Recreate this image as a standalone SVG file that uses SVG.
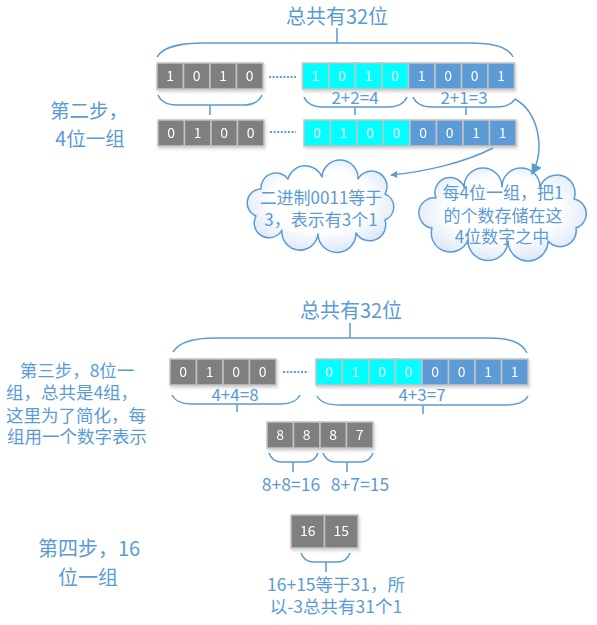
<svg xmlns="http://www.w3.org/2000/svg" width="597" height="625" viewBox="0 0 597 625">
<defs>
<style>
.lbl{font-family:"Noto Sans CJK SC","Noto Sans",sans-serif;fill:#5b9bd5;text-anchor:middle}
.t20{font-size:20px}
.t19{font-size:19.5px}
.t17{font-size:17.5px}
.t16{font-size:17px}
.cell rect{stroke:#c3c3c3;stroke-width:1.5}
.g{fill:#7f7f7f}
.c{fill:#00ffff}
.b{fill:#5b9bd5}
.cell text{font-family:"Noto Sans CJK SC","Noto Sans",sans-serif;font-size:14px;fill:#ffffff;text-anchor:middle}
.br{fill:none;stroke:#5b9bd5;stroke-width:1.5}
.dots{fill:none;stroke:#5b9bd5;stroke-width:2;stroke-dasharray:2 1.6}
.cloud{fill:url(#cg);stroke:#5b9bd5;stroke-width:1.5;stroke-linejoin:round}
.arr{fill:none;stroke:#5b9bd5;stroke-width:1.5}
</style>
<filter id="sh" x="-10%" y="-20%" width="120%" height="160%">
<feDropShadow dx="1" dy="2" stdDeviation="1.5" flood-color="#000" flood-opacity="0.18"/>
</filter>
<radialGradient id="cg" cx="50%" cy="45%" r="60%">
<stop offset="0.55" stop-color="#ffffff"/>
<stop offset="1" stop-color="#d6e4f4"/>
</radialGradient>
<marker id="ah" viewBox="0 0 10 10" refX="9" refY="5" markerWidth="11" markerHeight="11" markerUnits="userSpaceOnUse" orient="auto">
<path d="M0,0 L10,5 L0,10 z" fill="#5b9bd5"/>
</marker>
<marker id="ahs" viewBox="0 0 10 10" refX="9" refY="5" markerWidth="7" markerHeight="7" markerUnits="userSpaceOnUse" orient="auto">
<path d="M0,0 L10,5 L0,10 z" fill="#5b9bd5"/>
</marker>
</defs>
<rect width="597" height="625" fill="#ffffff"/>

<!-- Step 2 -->
<g id="title1">
<text class="lbl t20" x="337" y="24">总共有32位</text>
<path class="br" d="M157,57 C163,47 178,43 205,43 H468 C494,43 508,47 513,57 M337,28 V43"/>
</g>
<g id="step2-label">
<text class="lbl t19" x="89" y="118">第二步，</text>
<text class="lbl t19" x="90" y="146">4位一组</text>
</g>
<g id="row1" class="cell" filter="url(#sh)">
<rect class="g" x="157" y="63" width="26.5" height="26"/><rect class="g" x="183.5" y="63" width="26.5" height="26"/><rect class="g" x="210" y="63" width="26.5" height="26"/><rect class="g" x="236.5" y="63" width="26.5" height="26"/>
<rect class="c" x="302.5" y="63" width="26.5" height="26"/><rect class="c" x="329" y="63" width="26.5" height="26"/><rect class="c" x="355.5" y="63" width="26.5" height="26"/><rect class="c" x="382" y="63" width="26.5" height="26"/>
<rect class="b" x="408.5" y="63" width="26.5" height="26"/><rect class="b" x="435" y="63" width="26.5" height="26"/><rect class="b" x="461.5" y="63" width="26.5" height="26"/><rect class="b" x="488" y="63" width="26.5" height="26"/>
<text x="170.25" y="81">1</text><text x="196.75" y="81">0</text><text x="223.25" y="81">1</text><text x="249.75" y="81">0</text>
<text x="315.75" y="81">1</text><text x="342.25" y="81">0</text><text x="368.75" y="81">1</text><text x="395.25" y="81">0</text>
<text x="421.75" y="81">1</text><text x="448.25" y="81">0</text><text x="474.75" y="81">0</text><text x="501.25" y="81">1</text>
</g>
<path class="dots" d="M269,77 H296"/>
<g id="brace1a"><path class="br" d="M158,95 C161,102 167,105 177,105 H243 C253,105 259,102 262,95 M210,105 V115"/></g>
<g id="brace1b">
<path class="br" d="M304,97 C307,104 313,107 323,107 H388 C398,107 404,104 407,97 M355,107 V115"/>
<text class="lbl t16" x="355" y="104">2+2=4</text>
</g>
<g id="brace1c">
<path class="br" d="M413,97 C416,104 422,107 432,107 H496 C506,107 512,104 515,99 M466,107 V115"/>
<text class="lbl t16" x="464" y="104">2+1=3</text>
</g>
<g id="row2" class="cell" filter="url(#sh)">
<rect class="g" x="158" y="120" width="26.5" height="26"/><rect class="g" x="184.5" y="120" width="26.5" height="26"/><rect class="g" x="211" y="120" width="26.5" height="26"/><rect class="g" x="237.5" y="120" width="26.5" height="26"/>
<rect class="c" x="304" y="120" width="26.5" height="26"/><rect class="c" x="330.5" y="120" width="26.5" height="26"/><rect class="c" x="357" y="120" width="26.5" height="26"/><rect class="c" x="383.5" y="120" width="26.5" height="26"/>
<rect class="b" x="410" y="120" width="26.5" height="26"/><rect class="b" x="436.5" y="120" width="26.5" height="26"/><rect class="b" x="463" y="120" width="26.5" height="26"/><rect class="b" x="489.5" y="120" width="26.5" height="26"/>
<text x="171.25" y="138">0</text><text x="197.75" y="138">1</text><text x="224.25" y="138">0</text><text x="250.75" y="138">0</text>
<text x="317.25" y="138">0</text><text x="343.75" y="138">1</text><text x="370.25" y="138">0</text><text x="396.75" y="138">0</text>
<text x="423.25" y="138">0</text><text x="449.75" y="138">0</text><text x="476.25" y="138">1</text><text x="502.75" y="138">1</text>
</g>
<path class="dots" d="M270,132 H296"/>

<g id="cloud1">
<path class="cloud" d="M256,216 A14,14 0 0 1 261,189 A15,15 0 0 1 288,179 A18,18 0 0 1 322,177 A18,18 0 0 1 358,179 A15,15 0 0 1 385,194 A14,14 0 0 1 385,220 A16,16 0 0 1 356,233 A19,19 0 0 1 318,234 A18,18 0 0 1 282,230 A14,14 0 0 1 256,216 Z"/>
<text class="lbl t16" x="321" y="204">二进制0011等于</text>
<text class="lbl t16" x="321" y="226">3，表示有3个1</text>
</g>
<g id="cloud2">
<path class="cloud" d="M432,228 A15,15 0 0 1 436,198 A15,15 0 0 1 464,187 A19,19 0 0 1 502,187 A19,19 0 0 1 540,187 A18,18 0 0 1 574,199 A15,15 0 0 1 576,228 A16,16 0 0 1 548,241 A20,20 0 0 1 508,241 A20,20 0 0 1 468,240 A19,19 0 0 1 432,228 Z"/>
<text class="lbl t16" x="503" y="199">每4位一组，把1</text>
<text class="lbl t16" x="503" y="222">的个数存储在这</text>
<text class="lbl t16" x="502" y="243">4位数字之中</text>
</g>

<!-- Step 3 -->
<g id="title3">
<text class="lbl t20" x="351" y="318">总共有32位</text>
<path class="br" d="M173,352 C179,342 194,338 215,338 H488 C512,338 522,343 527,353 M350,323 V338"/>
</g>
<g id="step3-label">
<text class="lbl t17" x="77" y="377">第三步，8位一</text>
<text class="lbl t17" x="72" y="399">组，总共是4组，</text>
<text class="lbl t17" x="76" y="422">这里为了简化，每</text>
<text class="lbl t17" x="77" y="443">组用一个数字表示</text>
</g>
<g id="row3" class="cell" filter="url(#sh)">
<rect class="g" x="170" y="359" width="26.5" height="26"/><rect class="g" x="196.5" y="359" width="26.5" height="26"/><rect class="g" x="223" y="359" width="26.5" height="26"/><rect class="g" x="249.5" y="359" width="26.5" height="26"/>
<rect class="c" x="316" y="359" width="26.5" height="26"/><rect class="c" x="342.5" y="359" width="26.5" height="26"/><rect class="c" x="369" y="359" width="26.5" height="26"/><rect class="c" x="395.5" y="359" width="26.5" height="26"/>
<rect class="b" x="422" y="359" width="26.5" height="26"/><rect class="b" x="448.5" y="359" width="26.5" height="26"/><rect class="b" x="475" y="359" width="26.5" height="26"/><rect class="b" x="501.5" y="359" width="26.5" height="26"/>
<text x="183.25" y="377">0</text><text x="209.75" y="377">1</text><text x="236.25" y="377">0</text><text x="262.75" y="377">0</text>
<text x="329.25" y="377">0</text><text x="355.75" y="377">1</text><text x="382.25" y="377">0</text><text x="408.75" y="377">0</text>
<text x="435.25" y="377">0</text><text x="461.75" y="377">0</text><text x="488.25" y="377">1</text><text x="514.75" y="377">1</text>
</g>
<path class="dots" d="M283,372 H308"/>
<g id="brace3a">
<path class="br" d="M172,395 C175,401 181,404 191,404 H281 C291,404 297,401 300,395 M237,404 V412"/>
<text class="lbl t16" x="235" y="401">4+4=8</text>
</g>
<g id="brace3b">
<path class="br" d="M317,396 C320,402 327,405 340,405 H505 C518,405 525,402 528,396 M423,405 V414"/>
<text class="lbl t16" x="422" y="401">4+3=7</text>
</g>
<g id="row4" class="cell" filter="url(#sh)">
<rect class="g" x="267" y="422" width="26.5" height="26"/><rect class="g" x="293.5" y="422" width="26.5" height="26"/><rect class="g" x="320" y="422" width="26.5" height="26"/><rect class="g" x="346.5" y="422" width="26.5" height="26"/>
<text x="280.25" y="440">8</text><text x="306.75" y="440">8</text><text x="333.25" y="440">8</text><text x="359.75" y="440">7</text>
</g>
<g id="brace4a">
<path class="br" d="M269,453 C271,459 275,462 282,462 H305 C312,462 316,459 318,453 M293,462 V472"/>
<text class="lbl t17" x="291" y="491">8+8=16</text>
</g>
<g id="brace4b">
<path class="br" d="M323,453 C325,459 329,462 336,462 H360 C367,462 371,459 373,453 M347,462 V472"/>
<text class="lbl t17" x="360" y="491">8+7=15</text>
</g>

<!-- Step 4 -->
<g id="step4-label">
<text class="lbl t20" x="89" y="556">第四步，16</text>
<text class="lbl t20" x="88" y="585">位一组</text>
</g>
<g id="row5" class="cell" filter="url(#sh)">
<rect class="g" x="291" y="515" width="33.5" height="33"/><rect class="g" x="324.5" y="515" width="33.5" height="33"/>
<text x="307.75" y="536">16</text><text x="341.25" y="536">15</text>
</g>
<g id="brace5">
<path class="br" d="M301,553 C303,559 307,562 314,562 H337 C344,562 348,559 350,553 M326,562 V572"/>
</g>
<g id="result">
<text class="lbl t17" x="336" y="591">16+15等于31，所</text>
<text class="lbl t17" x="336" y="613">以-3总共有31个1</text>
</g>

<g id="connectors">
<path class="arr" d="M515,99 C538,112 546,148 532,174" marker-end="url(#ah)"/>
<path class="arr" d="M493,148 C466,162 425,172 391,175" marker-end="url(#ahs)"/>
</g>
</svg>
